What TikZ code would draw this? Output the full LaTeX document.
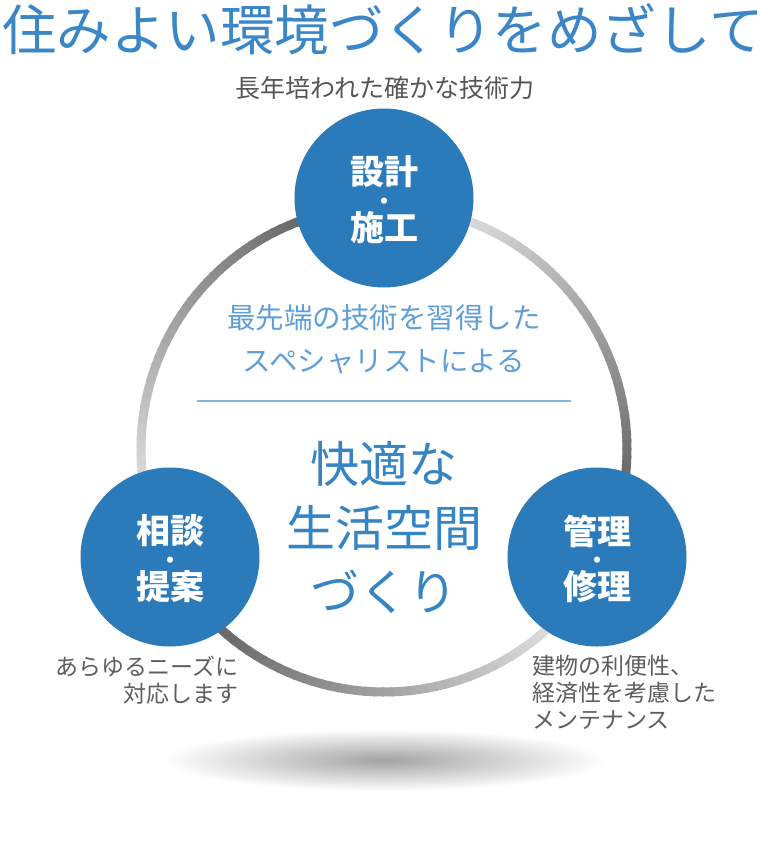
\documentclass[tikz,border=0pt]{standalone}
\usepackage{fontspec}
\setmainfont{Noto Sans CJK JP}
\usepackage{tikz}

\definecolor{hubblue}{HTML}{2B7BBA}
\definecolor{titleblue}{HTML}{3A86C6}
\definecolor{mainblue}{HTML}{3584C4}
\definecolor{softblue}{HTML}{5E9FD8}
\definecolor{rulecolor}{HTML}{86B3DF}
\definecolor{skillgray}{HTML}{555555}
\definecolor{notegray}{HTML}{5E5E5E}

\begin{document}
\begin{tikzpicture}[x=1pt, y=-1pt,
    hub/.style={circle, fill=hubblue, minimum size=179pt, inner sep=0pt},
    hubtext/.style={text=white, inner sep=0pt, font=\bfseries\fontsize{34}{34}\selectfont},
    hubdot/.style={text=white, inner sep=0pt, font=\bfseries\fontsize{22}{22}\selectfont},
    note/.style={text=notegray, inner sep=0pt, font=\fontsize{23}{27}\selectfont},
    ringseg/.style={line width=9pt}]
    \fill[white] (0,0) rectangle (768,852);
    \useasboundingbox (0,0) rectangle (768,852);

    % shadow under the ring
    \shade[inner color=black!36, outer color=white] (384,760) ellipse [x radius=222, y radius=31];

    % ring, light to dark between the circles
    \coordinate (hub) at (384,449);
    \foreach \s/\e in {270/387,27/153,153/270}
      \foreach \i in {0,...,59} {
        \pgfmathsetmacro\tone{3+67*\i/59}
        \pgfmathsetmacro\from{\s+(\e-\s)*\i/60}
        \pgfmathsetmacro\span{(\e-\s)/60+0.5}
        \draw[ringseg, black!\tone] (hub) ++(\from:243) arc[start angle=\from, delta angle=\span, radius=243];
      }

    \node[text=titleblue, font=\fontsize{54.5}{60}\selectfont] (title) at (383,29) {住みよい環境づくりをめざして};
    \node[text=skillgray, font=\fontsize{25}{30}\selectfont] (skill) at (385,88) {長年培われた確かな技術力};

    \node[text=softblue, align=center, font=\fontsize{28.5}{43}\selectfont] (expert) at (384,339) {最先端の技術を習得した\\スペシャリストによる};
    \coordinate (ruleL) at (197,401);
    \coordinate (ruleR) at (571,401);
    \draw[rulecolor, line width=1.3pt] (ruleL) -- (ruleR);
    \node[text=mainblue, align=center, font=\fontsize{49}{64}\selectfont] (core) at (384,528) {快適な\\生活空間\\づくり};

    % the three circles
    \foreach \name/\x/\y/\hubtop/\hubbot in {design/384/198/設計/施工, consult/170/557/相談/提案, manage/597/557/管理/修理} {
      \node[hub] (\name) at (\x,\y) {};
      \node[hubtext] (\name-top) at (\x,\y-26) {\hubtop};
      \node[hubdot] (\name-dot) at (\x,\y+6) {・};
      \node[hubtext] (\name-bot) at (\x,\y+30) {\hubbot};
    }

    \node[note, anchor=east, align=right] (consultnote) at (239,680) {あらゆるニーズに\\対応します};
    \node[note, anchor=west, align=left] (managenote) at (532,692) {建物の利便性、\\経済性を考慮した\\メンテナンス};
\end{tikzpicture}
\end{document}
